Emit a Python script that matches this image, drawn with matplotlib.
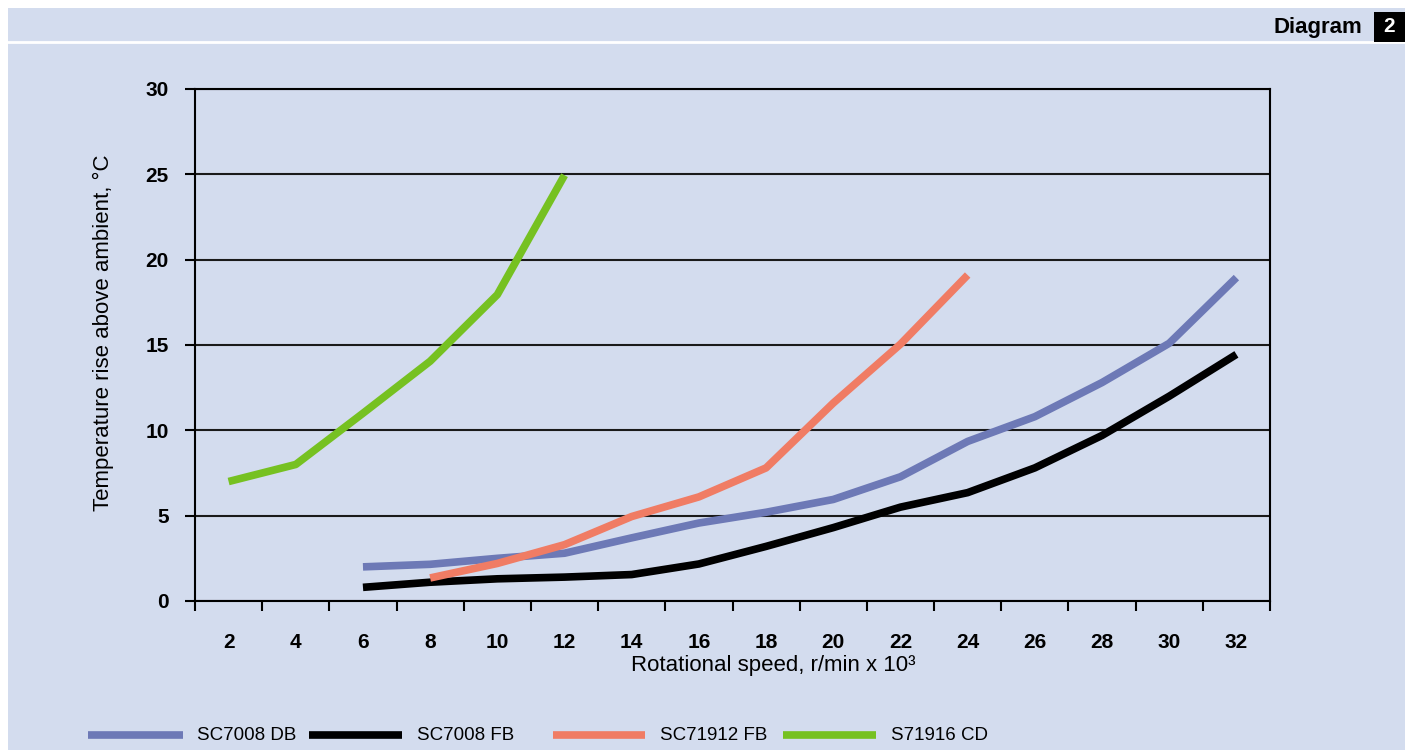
import numpy as np
import matplotlib.pyplot as plt
from matplotlib.patches import Rectangle
from matplotlib.lines import Line2D

plt.rcParams['font.family'] = ['Liberation Sans', 'DejaVu Sans']

# Data
speeds = ['2', '4', '6', '8', '10', '12', '14', '16', '18', '20', '22', '24', '26', '28', '30', '32']
nan = np.nan
sc7008_db = [nan, nan, 2.0, 2.15, 2.5, 2.8, 3.7, 4.57, 5.2, 5.95, 7.28, 9.35, 10.8, 12.8, 15.1, 18.95]
sc7008_fb = [nan, nan, 0.8, 1.1, 1.3, 1.4, 1.55, 2.17, 3.2, 4.3, 5.5, 6.35, 7.8, 9.7, 12.0, 14.45]
sc71912_fb = [nan, nan, nan, 1.35, 2.2, 3.3, 4.95, 6.1, 7.8, 11.6, 15.05, 19.1, nan, nan, nan, nan]
s71916_cd = [7.0, 8.0, 11.0, 14.05, 17.95, 24.95, nan, nan, nan, nan, nan, nan, nan, nan, nan, nan]

series_names = ['SC7008 DB', 'SC7008 FB', 'SC71912 FB', 'S71916 CD']
series_colors = ['#6d79b6', '#000000', '#f07c64', '#76c121']
series_data = [sc7008_db, sc7008_fb, sc71912_fb, s71916_cd]
y_ticks = [0, 5, 10, 15, 20, 25, 30]

bg = '#d3dcee'
W, H = 1411, 750
fig = plt.figure(figsize=(W / 100, H / 100), dpi=100, facecolor='white')

# light blue panel with white frame at top/left
fig.add_artist(Rectangle((8 / W, 0), (1405 - 8) / W, (H - 8) / H,
                         transform=fig.transFigure, facecolor=bg, edgecolor='none', zorder=0))
fig.add_artist(Line2D([8 / W, 1405 / W], [1 - 42 / H, 1 - 42 / H], transform=fig.transFigure,
                      color='white', lw=2, zorder=1))
fig.add_artist(Rectangle((1374 / W, 1 - 42 / H), 31 / W, 30 / H,
                         transform=fig.transFigure, facecolor='black', edgecolor='none', zorder=2))
fig.text(1389.5 / W, 1 - 27 / H, '2', color='white', fontsize=15, fontweight='bold',
         ha='center', va='center', zorder=3)
fig.text(1362 / W, 1 - 27 / H, 'Diagram', color='black', fontsize=16, fontweight='bold',
         ha='right', va='center', zorder=3)

ax = fig.add_axes([195 / W, 1 - 601 / H, (1270 - 195) / W, (601 - 89) / H])
ax.set_facecolor('none')
ax.set_zorder(2)

x = np.arange(len(speeds))
for data, c in zip(series_data, series_colors):
    ax.plot(x, data, color=c, lw=5.5, solid_capstyle='butt', solid_joinstyle='round', zorder=3)

ax.set_xlim(-0.5, len(speeds) - 0.5)
ax.set_ylim(0, 30)
ax.set_yticks(y_ticks)
ax.set_yticklabels([str(v) for v in y_ticks], fontsize=15, fontweight='bold')
ax.set_xticks(np.arange(len(speeds) + 1) - 0.5)
ax.set_xticklabels([])
ax.set_xticks(x, minor=True)
ax.set_xticklabels(speeds, minor=True, fontsize=15, fontweight='bold')
ax.tick_params(axis='x', which='major', direction='out', length=7, width=1.5, color='black')
ax.tick_params(axis='x', which='minor', length=0, pad=23)
ax.tick_params(axis='y', direction='out', length=7, width=1.5, pad=12)
ax.grid(axis='y', color='#1a1a1a', lw=1.5, zorder=1)
for s in ax.spines.values():
    s.set_linewidth(1.5)
    s.set_color('black')

ax.set_xlabel('Rotational speed, r/min x 10\u00b3', fontsize=16)
ax.set_ylabel('Temperature rise above ambient, \u00b0C', fontsize=16)
ax.xaxis.set_label_coords((773 - 195) / 1075, -(666 - 601) / 512)
ax.yaxis.set_label_coords(-(195 - 103) / 1075, (601 - 333) / 512)
ax.xaxis.label.set_va('center')
ax.yaxis.label.set_va('center')

# legend along the bottom
leg_lines = [(88, 183), (309, 402), (553, 645), (783, 876)]
leg_text = [197, 417, 660, 891]
ly = 1 - 735 / H
for (x0, x1), tx, name, c in zip(leg_lines, leg_text, series_names, series_colors):
    fig.add_artist(Line2D([x0 / W, x1 / W], [ly, ly], transform=fig.transFigure,
                          color=c, lw=5.5, solid_capstyle='butt', zorder=3))
    fig.text(tx / W, ly, name, fontsize=13.5, ha='left', va='center', zorder=3)

fig.savefig('out.png', dpi=100, facecolor='white')
